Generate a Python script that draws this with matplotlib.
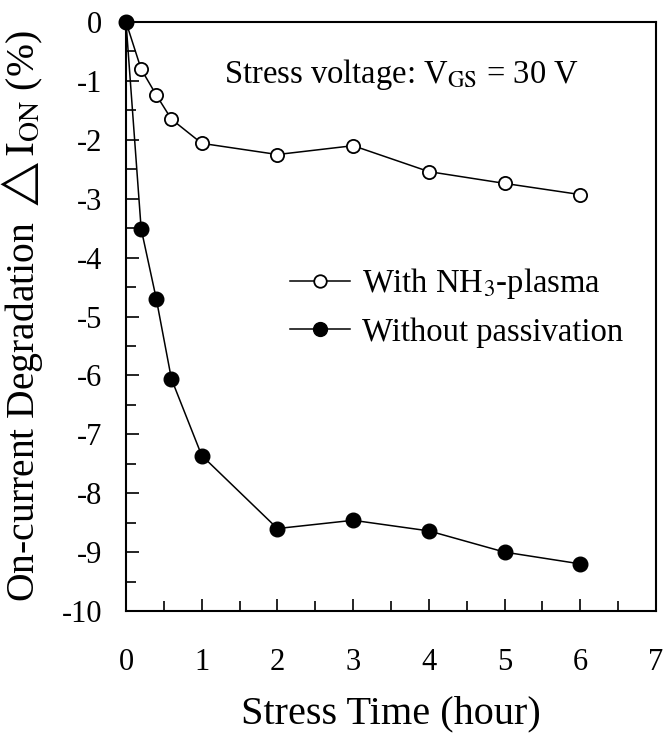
import matplotlib
matplotlib.use("Agg")
import matplotlib.pyplot as plt
from matplotlib.ticker import MultipleLocator

# stress time (hour)
time_nh3 = [0, 0.2, 0.4, 0.6, 1, 2, 3, 4, 5, 6]
time_bare = [0, 0.2, 0.4, 0.6, 1, 2, 3, 4, 5, 6]

# on-current degradation (%)
deg_nh3 = [0, -0.80, -1.24, -1.65, -2.06, -2.25, -2.10, -2.54, -2.74, -2.93]
deg_bare = [0, -3.51, -4.70, -6.06, -7.36, -8.60, -8.46, -8.64, -9.00, -9.20]

label_nh3 = "With NH$_3$-plasma"
label_bare = "Without passivation"

plt.rcParams["font.family"] = ["Liberation Serif", "DejaVu Serif"]
plt.rcParams["mathtext.fontset"] = "stix"
plt.rcParams["axes.unicode_minus"] = False

fig = plt.figure(figsize=(6.68, 7.36), dpi=100)
ax = fig.add_axes([126 / 668, 1 - 611 / 736, (656 - 126) / 668, (611 - 22) / 736])

ax.plot(time_nh3, deg_nh3, color="black", lw=1.1, marker="o", ms=9.5,
        mfc="white", mec="black", mew=1.3, clip_on=False, zorder=3,
        label=label_nh3)
ax.plot(time_bare, deg_bare, color="black", lw=1.1, marker="o", ms=10.5,
        mfc="black", mec="black", clip_on=False, zorder=4,
        label=label_bare)

ax.set_xlim(0, 7)
ax.set_ylim(-10, 0)
ax.xaxis.set_major_locator(MultipleLocator(1))
ax.xaxis.set_minor_locator(MultipleLocator(0.5))
ax.yaxis.set_major_locator(MultipleLocator(1))
ax.yaxis.set_minor_locator(MultipleLocator(0.5))

ax.tick_params(which="both", direction="in", top=False, right=False, width=1.2)
ax.tick_params(which="major", length=9)
ax.tick_params(which="minor", length=7)
ax.tick_params(axis="x", which="major", labelsize=22, pad=27)
ax.tick_params(axis="y", which="major", labelsize=22, pad=17)

for s in ax.spines.values():
    s.set_linewidth(1.5)

ax.set_xlabel("Stress Time (hour)", fontsize=29, labelpad=13)
ax.set_ylabel("On-current Degradation $\\triangle\\mathrm{I}_{\\mathrm{ON}}$ (%)",
              fontsize=28.5, labelpad=12)

ax.text(3.64, -1.04, "Stress voltage: V$_{\\mathrm{GS}}$ = 30 V",
        fontsize=23.5, ha="center", va="baseline")

ax.legend(loc="upper left", bbox_to_anchor=(290 / 668, 1 - 266 / 736),
          bbox_transform=fig.transFigure, frameon=False, fontsize=23.5,
          borderpad=0, borderaxespad=0, handlelength=1.83, handletextpad=0.37,
          labelspacing=0.5, markerscale=0.95)

fig.savefig("out.png", dpi=100)
